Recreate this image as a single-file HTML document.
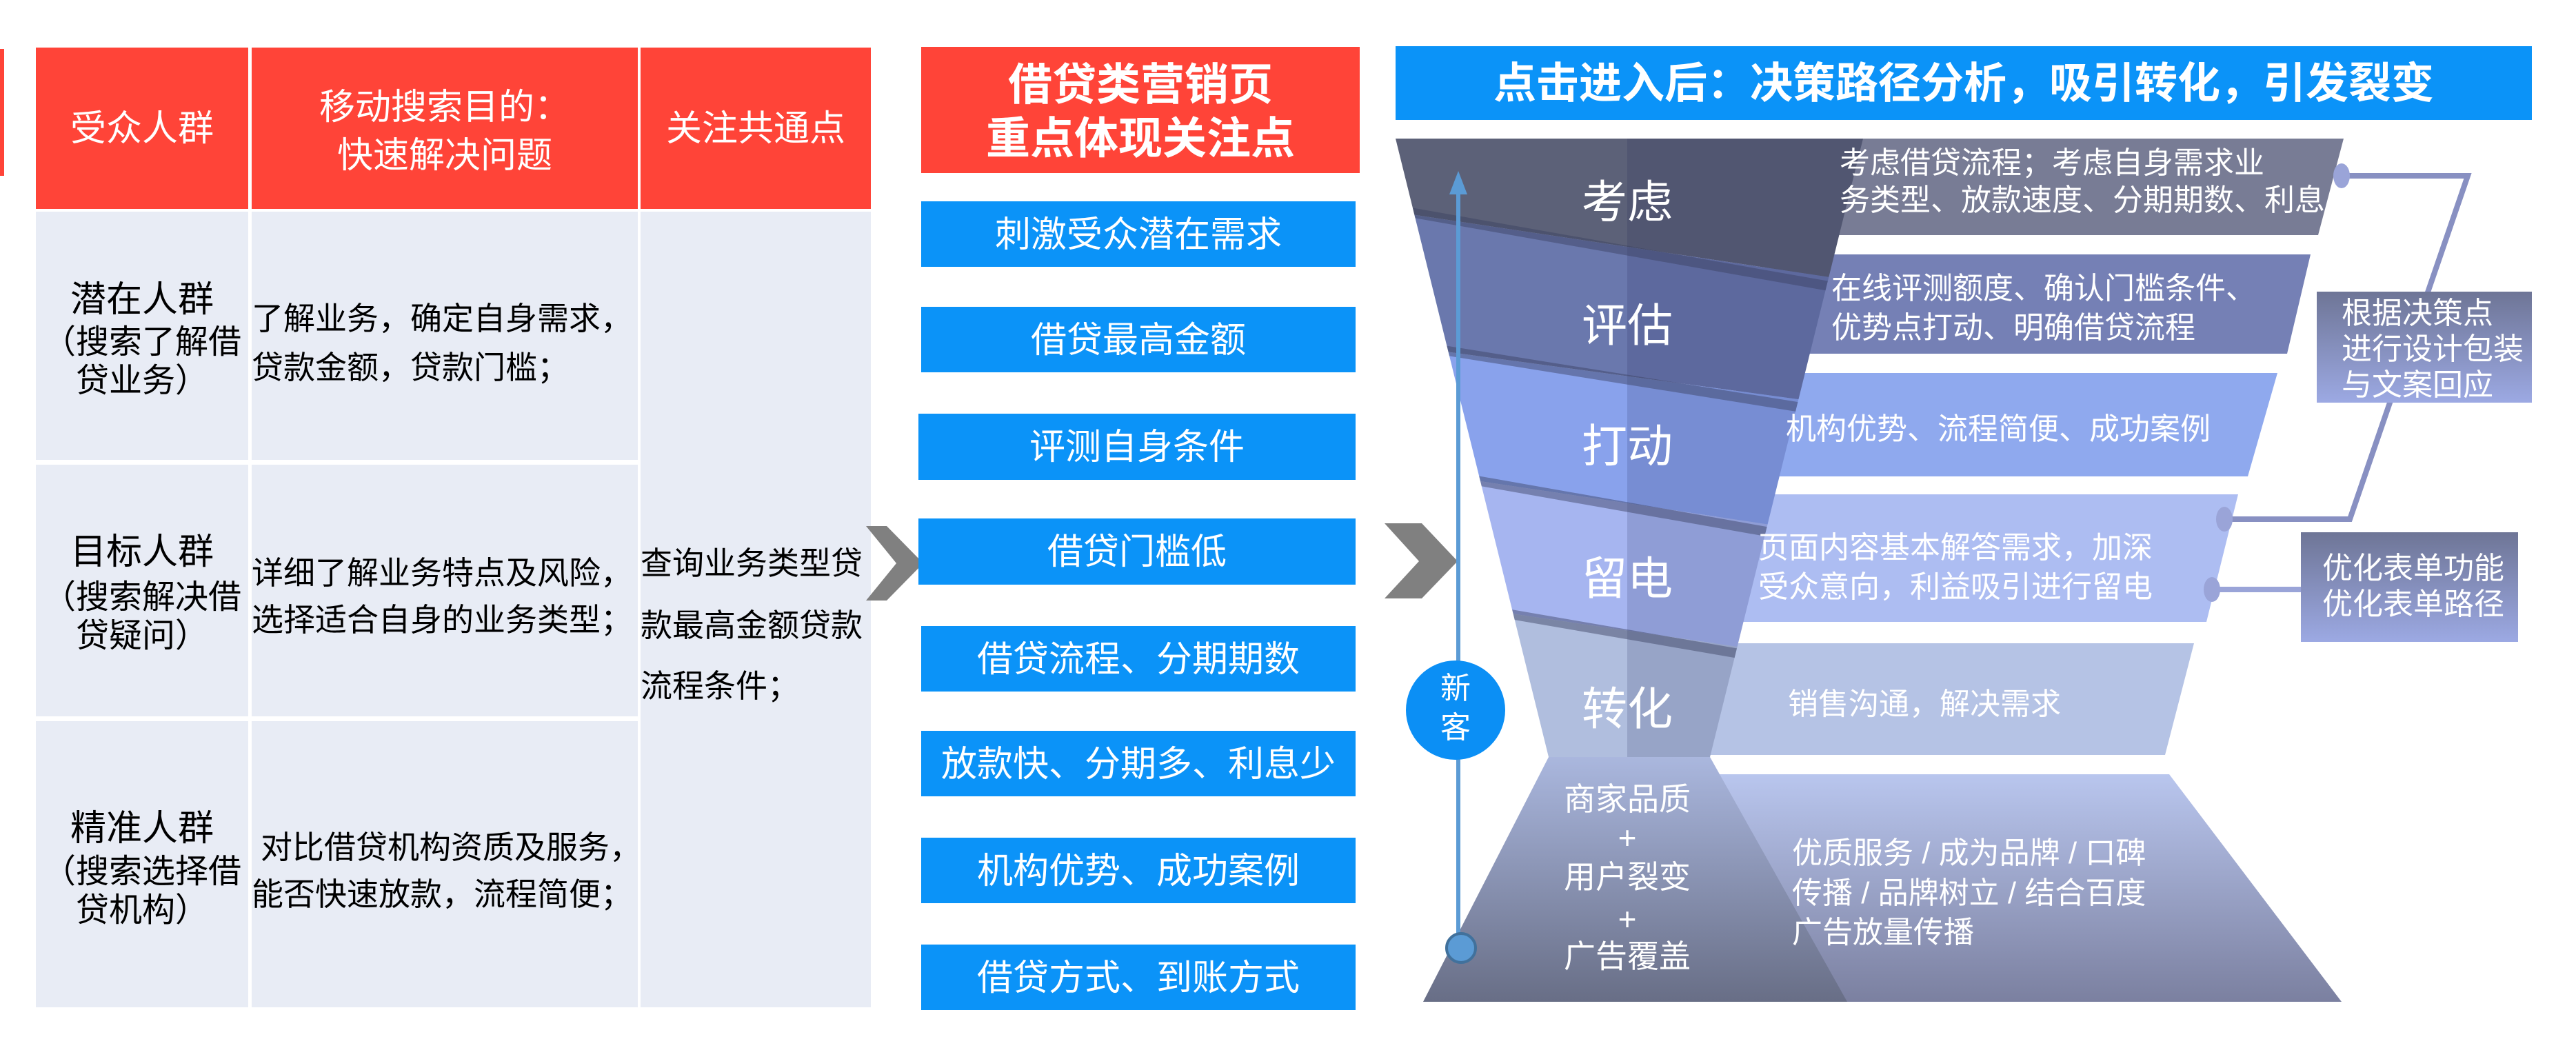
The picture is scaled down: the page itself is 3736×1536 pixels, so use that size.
<!DOCTYPE html>
<html><head><meta charset="utf-8"><style>
html,body{margin:0;padding:0;background:#fff;}
svg{display:block;}
text{font-family:"Liberation Sans","Noto Sans CJK SC",sans-serif;}
</style></head><body>
<svg width="3736" height="1536" viewBox="0 0 3736 1536" xmlns="http://www.w3.org/2000/svg">
<defs>
<clipPath id="fc"><polygon points="2024,201 2702,201 2480,1098 2246,1098"/></clipPath>
<linearGradient id="gl" x1="0" y1="0" x2="0" y2="1"><stop offset="0" stop-color="#aab7de"/><stop offset="1" stop-color="#686e86"/></linearGradient>
<linearGradient id="gr" x1="0" y1="0" x2="0" y2="1"><stop offset="0" stop-color="#b9c6ee"/><stop offset="1" stop-color="#7b80a0"/></linearGradient>
<linearGradient id="gb" x1="0" y1="0" x2="0" y2="1"><stop offset="0" stop-color="#6e7596"/><stop offset="1" stop-color="#9ca9e3"/></linearGradient>
</defs>
<!-- left edge red strip -->
<rect x="0" y="71" width="6" height="184" fill="#ff4438"/>
<!-- table -->
<rect x="52" y="69" width="308" height="234" fill="#ff4438"/>
<rect x="365" y="69" width="560" height="234" fill="#ff4438"/>
<rect x="929" y="69" width="334" height="234" fill="#ff4438"/>
<rect x="52" y="307" width="308" height="360" fill="#e8ecf5"/>
<rect x="365" y="307" width="560" height="360" fill="#e8ecf5"/>
<rect x="52" y="674" width="308" height="365" fill="#e8ecf5"/>
<rect x="365" y="674" width="560" height="365" fill="#e8ecf5"/>
<rect x="52" y="1046" width="308" height="415" fill="#e8ecf5"/>
<rect x="365" y="1046" width="560" height="415" fill="#e8ecf5"/>
<rect x="929" y="307" width="334" height="1154" fill="#e8ecf5"/>
<g fill="#fff" font-size="52" text-anchor="middle">
<text x="206" y="204">受众人群</text>
<text x="645" y="173">移动搜索目的：</text>
<text x="645" y="243">快速解决问题</text>
<text x="1096" y="204">关注共通点</text>
</g>
<g fill="#000" text-anchor="middle">
<text x="206" y="452" font-size="52">潜在人群</text>
<text x="206" y="512" font-size="48">（搜索了解借</text>
<text x="206" y="568" font-size="48">贷业务）</text>
<text x="206" y="818" font-size="52">目标人群</text>
<text x="206" y="882" font-size="48">（搜索解决借</text>
<text x="206" y="938" font-size="48">贷疑问）</text>
<text x="206" y="1219" font-size="52">精准人群</text>
<text x="206" y="1280" font-size="48">（搜索选择借</text>
<text x="206" y="1336" font-size="48">贷机构）</text>
</g>
<g fill="#000" font-size="46">
<text x="365" y="478">了解业务，确定自身需求，</text>
<text x="365" y="549">贷款金额，贷款门槛；</text>
<text x="365" y="847">详细了解业务特点及风险，</text>
<text x="365" y="915">选择适合自身的业务类型；</text>
<text x="378" y="1245">对比借贷机构资质及服务，</text>
<text x="365" y="1313">能否快速放款，流程简便；</text>
<text x="929" y="833">查询业务类型贷</text>
<text x="929" y="923">款最高金额贷款</text>
<text x="929" y="1011">流程条件；</text>
</g>
<!-- chevrons -->
<polygon points="1256,763 1286,763 1339,817 1286,871 1256,871 1300,817" fill="#808080"/>
<polygon points="2008,759 2062,759 2114,814 2062,868 2008,868 2058,814" fill="#808080"/>
<!-- middle column -->
<rect x="1336" y="68" width="636" height="183" fill="#ff4438"/>
<g fill="#fff" font-size="64" font-weight="bold" text-anchor="middle">
<text x="1654" y="145">借贷类营销页</text>
<text x="1654" y="223">重点体现关注点</text>
</g>
<g fill="#0b93f8">
<rect x="1336" y="292" width="630" height="95"/>
<rect x="1336" y="445" width="630" height="95"/>
<rect x="1332" y="600" width="634" height="96"/>
<rect x="1332" y="752" width="634" height="96"/>
<rect x="1336" y="908" width="630" height="95"/>
<rect x="1336" y="1060" width="630" height="95"/>
<rect x="1336" y="1215" width="630" height="95"/>
<rect x="1336" y="1370" width="630" height="95"/>
</g>
<g fill="#fff" font-size="52" text-anchor="middle">
<text x="1651" y="358">刺激受众潜在需求</text>
<text x="1651" y="511">借贷最高金额</text>
<text x="1649" y="666">评测自身条件</text>
<text x="1649" y="818">借贷门槛低</text>
<text x="1651" y="974">借贷流程、分期期数</text>
<text x="1651" y="1126">放款快、分期多、利息少</text>
<text x="1651" y="1281">机构优势、成功案例</text>
<text x="1651" y="1436">借贷方式、到账方式</text>
</g>
<!-- right title -->
<rect x="2024" y="67" width="1648" height="107" fill="#0b93f8"/>
<text x="2848" y="142" fill="#fff" font-size="62" font-weight="bold" text-anchor="middle">点击进入后：决策路径分析，吸引转化，引发裂变</text>
<!-- description panels -->
<polygon points="2600,201 3399,201 3362,341 2600,341" fill="#787c95"/>
<polygon points="2560,369 3351,369 3317,513 2560,513" fill="#7580b5"/>
<polygon points="2520,541 3303,541 3260,691 2520,691" fill="#8fa9ee"/>
<polygon points="2490,717 3246,717 3200,902 2490,902" fill="#adbdf2"/>
<polygon points="2460,933 3182,933 3140,1095 2460,1095" fill="#b5c3e5"/>
<!-- bottom shapes -->
<polygon points="2480,1123 3146,1123 3396,1453 2640,1453" fill="url(#gr)"/>
<polygon points="2246,1098 2480,1098 2679,1453 2064,1453" fill="url(#gl)"/>
<!-- funnel -->
<g clip-path="url(#fc)">
<polygon points="2000,150 2800,150 2800,424 2000,304" fill="#5c6178"/>
<polygon points="2000,304 2800,424 2800,605 2000,497" fill="#6a78ad"/>
<polygon points="2000,497 2800,605 2800,796 2000,676" fill="#89a2ec"/>
<polygon points="2000,676 2800,796 2800,979 2000,862" fill="#a6b5f0"/>
<polygon points="2000,862 2800,979 2800,1120 2000,1120" fill="#b0bede"/>
<rect x="2360" y="150" width="440" height="1000" fill="#1a2050" opacity="0.16"/>
<g stroke="#3a4060" stroke-width="14" opacity="0.45">
<line x1="2000" y1="300" x2="2800" y2="441"/>
<line x1="2000" y1="493" x2="2800" y2="621"/>
<line x1="2000" y1="672" x2="2800" y2="813"/>
<line x1="2000" y1="858" x2="2800" y2="996"/>
</g>
</g>
<g fill="#fff" font-size="66" text-anchor="middle">
<text x="2360" y="316">考虑</text>
<text x="2360" y="495">评估</text>
<text x="2360" y="670">打动</text>
<text x="2360" y="862">留电</text>
<text x="2360" y="1051">转化</text>
</g>
<g fill="#fff" font-size="46" text-anchor="middle">
<text x="2360" y="1175">商家品质</text>
<text x="2360" y="1231">+</text>
<text x="2360" y="1288">用户裂变</text>
<text x="2360" y="1349">+</text>
<text x="2360" y="1403">广告覆盖</text>
</g>
<g fill="#fff" font-size="44">
<text x="2668" y="251">考虑借贷流程；考虑自身需求业</text>
<text x="2668" y="305">务类型、放款速度、分期期数、利息</text>
<text x="2656" y="433">在线评测额度、确认门槛条件、</text>
<text x="2656" y="490">优势点打动、明确借贷流程</text>
<text x="2590" y="637">机构优势、流程简便、成功案例</text>
<text x="2550" y="809">页面内容基本解答需求，加深</text>
<text x="2550" y="866">受众意向，利益吸引进行留电</text>
<text x="2593" y="1036">销售沟通，解决需求</text>
<text x="2599" y="1252">优质服务 / 成为品牌 / 口碑</text>
<text x="2599" y="1310">传播 / 品牌树立 / 结合百度</text>
<text x="2599" y="1367">广告放量传播</text>
</g>
<!-- vertical arrow line -->
<line x1="2115" y1="270" x2="2115" y2="1360" stroke="#5b9bd5" stroke-width="6"/>
<polygon points="2115,248 2102,282 2128,282" fill="#5b9bd5"/>
<circle cx="2119" cy="1375" r="21" fill="#5b9bd5" stroke="#41719c" stroke-width="4"/>
<circle cx="2111" cy="1030" r="72" fill="#0b8ff5"/>
<g fill="#fff" font-size="44" text-anchor="middle">
<text x="2111" y="1013">新</text>
<text x="2111" y="1070">客</text>
</g>
<!-- connectors -->
<polyline points="3396,255 3579,255 3408,753 3226,753" fill="none" stroke="#8890c2" stroke-width="8"/>
<line x1="3208" y1="855" x2="3337" y2="855" stroke="#9aa4d8" stroke-width="8"/>
<ellipse cx="3396" cy="255" rx="12" ry="18" fill="#9aa4d8"/>
<ellipse cx="3226" cy="753" rx="12" ry="18" fill="#9aa4d8"/>
<ellipse cx="3208" cy="855" rx="12" ry="18" fill="#9aa4d8"/>
<rect x="3360" y="423" width="312" height="161" fill="url(#gb)"/>
<rect x="3337" y="772" width="315" height="159" fill="url(#gb)"/>
<g fill="#fff" font-size="44">
<text x="3396" y="469">根据决策点</text>
<text x="3396" y="521">进行设计包装</text>
<text x="3396" y="573">与文案回应</text>
<text x="3368" y="839">优化表单功能</text>
<text x="3368" y="891">优化表单路径</text>
</g>
</svg>
</body></html>
